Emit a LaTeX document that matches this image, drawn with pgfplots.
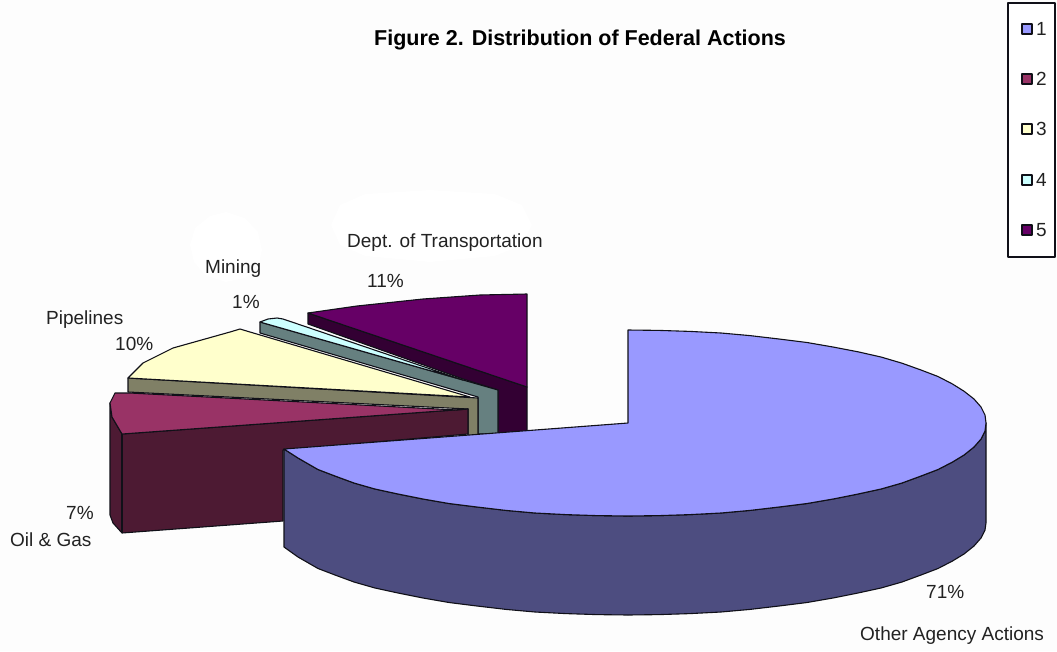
\documentclass[border=0pt]{standalone}
\usepackage{fontspec}
\setmainfont{Liberation Sans}
\usepackage{pgfplots}
\pgfplotsset{compat=1.18}
\definecolor{topA}{HTML}{9999FF}\definecolor{sideA}{HTML}{4D4D80}
\definecolor{topB}{HTML}{993366}\definecolor{sideB}{HTML}{4D1A33}
\definecolor{topC}{HTML}{FFFFCC}\definecolor{sideC}{HTML}{808066}
\definecolor{topD}{HTML}{CCFFFF}\definecolor{sideD}{HTML}{668080}
\definecolor{topE}{HTML}{660066}\definecolor{sideE}{HTML}{330033}
\definecolor{edge}{HTML}{101018}
\definecolor{txt}{HTML}{222222}
\definecolor{paper}{HTML}{FDFDFD}
\tikzset{lbl/.style={anchor=west, inner sep=0pt, text=txt, font=\fontsize{19}{19}\selectfont}}
\begin{document}
\begin{tikzpicture}
\begin{axis}[
  scale only axis, width=1057pt, height=651pt,
  xmin=0, xmax=1057, ymin=0, ymax=651, y dir=reverse,
  hide axis, clip=true,
  every axis plot/.append style={line width=1.1pt, draw=edge, line join=round},
]
% page background
\addplot[draw=none, fill=paper, forget plot] coordinates {(0,0)(1057,0)(1057,651)(0,651)} -- cycle;
\addplot[draw=none, fill=white, forget plot] coordinates {(190,245)(195,228)(210,216)(226,212)(245,218)(258,232)(262,250)(258,268)(245,278)(226,282)(205,275)(194,262)} -- cycle;
\addplot[draw=none, fill=white, forget plot] coordinates {(331,225)(340,205)(365,194)(430,190)(495,194)(522,205)(532,225)(522,245)(495,256)(430,262)(365,256)(340,245)} -- cycle;
% slice 5: Dept. of Transportation
\addplot[fill=sideE] coordinates {(308,313)(527,387)(527,434)(498,434)(498,390)(463,379)(308,324)} -- cycle;
\addplot[fill=topE] coordinates {(308,313)(357,306)(423,299)(480,295)(527,294)(527,387)} -- cycle;
% slice 4: Mining
\addplot[fill=sideD] coordinates {(260,322)(498,390)(498,434)(478,434)(478,397)(260,333)} -- cycle;
\addplot[fill=topD] coordinates {(260,322)(268,319)(277,318)(283,319)(463,380)} -- cycle;
% slice 3: Pipelines
\addplot[fill=sideC] coordinates {(128,378)(478,398)(478,436)(468,436)(468,409)(128,392)} -- cycle;
\addplot[fill=topC] coordinates {(128,378)(143,363)(173,348)(230,332)(240,329)(250,332)(470,397)} -- cycle;
% slice 2: Oil & Gas
\addplot[fill=sideB] coordinates {(110,403)(110,515)(113,523)(122,533)(283,521)(283,450)(468,434)(468,409)(122,434)(112,417)} -- cycle;
\addplot[fill=topB] coordinates {(110,403)(115,393)(130,393)(457,410)(468,409)(122,434)(112,417)} -- cycle;
\addplot[draw=edge] coordinates {(122,434)(122,533)};
% slice 1: Other Agency Actions
\addplot[fill=sideA] coordinates {(284,449)(298,458)(318,469.5)(335,476)(354,483)(375,489)(398,494)(423,499)(449,503.5)(477,507)(506,510.4)(535,513)(566,514.6)(597,515.6)(628,516)(659,515.6)(690,514.6)(721,513)(750,510.4)(779,507)(807,503.5)(833,499)(858,494)(881,489)(902,483)(921,476)(938,469.5)(952.5,462)(964,455)(974,447)(981,439)(985,431)(986,423)(986,523)(985,530)(981,538)(974,546)(964,554)(952.5,561)(938,568.5)(921,575)(902,582)(881,588)(858,593)(833,598)(807,602.5)(779,606)(750,609.4)(721,612)(690,613.6)(659,614.6)(628,615)(597,614.6)(566,613.6)(535,612)(506,609.4)(477,606)(449,602.5)(423,598)(398,593)(375,588)(354,582)(335,575)(318,568.5)(298,557)(284,547)} -- cycle;
\addplot[fill=topA] coordinates {(628,423)(628,330)(659,330.4)(690,331.4)(721,333)(750,335.6)(779,339)(807,342.5)(833,347)(858,351.8)(881,357)(902,363.2)(921,370)(938,376.5)(952.5,384)(964,391.2)(974,399)(981,407)(985,415)(986,423)(985,431)(981,439)(974,447)(964,455)(952.5,462)(938,469.5)(921,476)(902,483)(881,489)(858,494)(833,499)(807,503.5)(779,507)(750,510.4)(721,513)(690,514.6)(659,515.6)(628,516)(597,515.6)(566,514.6)(535,513)(506,510.4)(477,507)(449,503.5)(423,499)(398,494)(375,489)(354,483)(335,476)(318,469.5)(298,458)(284,449)} -- cycle;
% legend frame and keys
\addplot[draw=edge, fill=white, line width=1.2pt] coordinates {(1008,3)(1055,3)(1055,257)(1008,257)} -- cycle;
\addplot[draw=edge, fill=topA] coordinates {(1022,24)(1032,24)(1032,34)(1022,34)} -- cycle;
\addplot[draw=edge, fill=topB] coordinates {(1022,74)(1032,74)(1032,84)(1022,84)} -- cycle;
\addplot[draw=edge, fill=topC] coordinates {(1022,124)(1032,124)(1032,134)(1022,134)} -- cycle;
\addplot[draw=edge, fill=topD] coordinates {(1022,175)(1032,175)(1032,185)(1022,185)} -- cycle;
\addplot[draw=edge, fill=topE] coordinates {(1022,225)(1032,225)(1032,235)(1022,235)} -- cycle;
\node[lbl] at (axis cs:1036,29) {1};
\node[lbl] at (axis cs:1036,79) {2};
\node[lbl] at (axis cs:1036,129) {3};
\node[lbl] at (axis cs:1036,180) {4};
\node[lbl] at (axis cs:1036,230) {5};
% text
\node[anchor=west, inner sep=0pt, text=black, font=\fontsize{21.5}{21.5}\selectfont\bfseries] at (axis cs:374,40) {Figure 2. Distribution of Federal Actions};
\node[lbl] at (axis cs:347,243) {Dept. of Transportation};
\node[lbl] at (axis cs:367,281) {11\%};
\node[lbl] at (axis cs:205,269) {Mining};
\node[lbl] at (axis cs:232,302) {1\%};
\node[lbl] at (axis cs:46,320) {Pipelines};
\node[lbl] at (axis cs:115,344) {10\%};
\node[lbl] at (axis cs:66,513) {7\%};
\node[lbl] at (axis cs:10,540) {Oil \& Gas};
\node[lbl] at (axis cs:926,592) {71\%};
\node[lbl] at (axis cs:860,636) {Other Agency Actions};
\end{axis}
\end{tikzpicture}
\end{document}
